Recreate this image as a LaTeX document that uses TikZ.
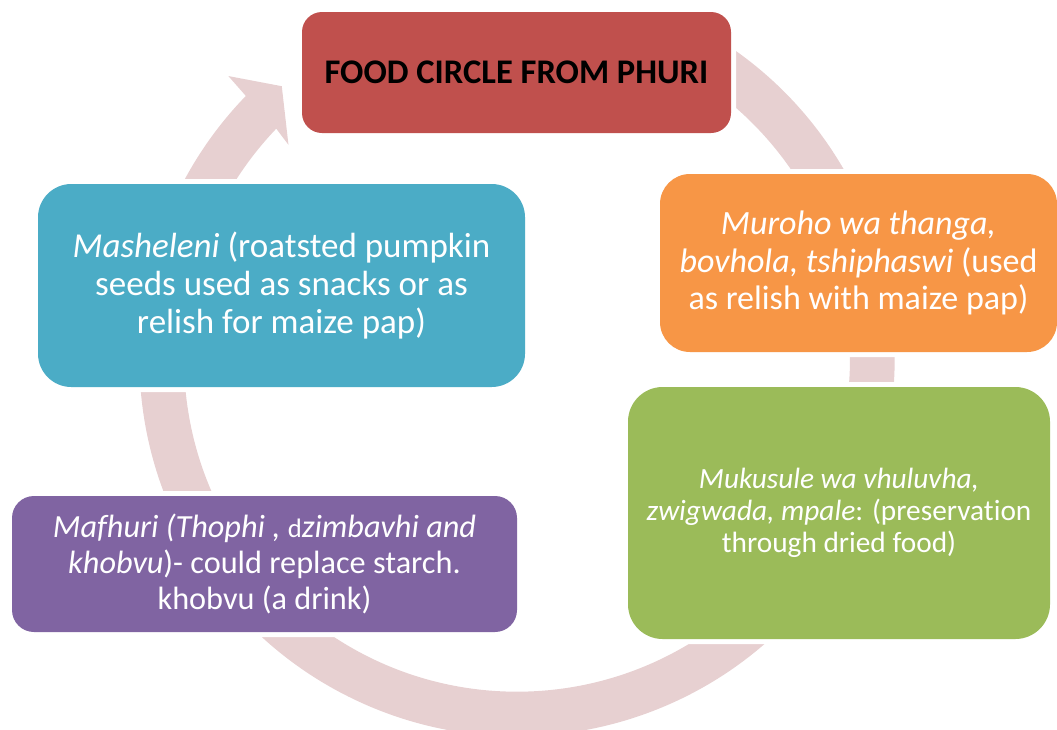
\documentclass[tikz,border=0pt]{standalone}
\usepackage{fontspec}
\setmainfont{Carlito}[Ligatures=NoCommon]
\definecolor{titlered}{HTML}{C0504D}
\definecolor{relishorange}{HTML}{F79646}
\definecolor{driedgreen}{HTML}{9BBB59}
\definecolor{drinkpurple}{HTML}{8064A2}
\definecolor{seedblue}{HTML}{4BACC6}
\definecolor{ringpink}{HTML}{E7D0D1}
\tikzset{
  cyclebox/.style={inner sep=0pt, align=center, text=white,
    preaction={draw=white, line width=7.5pt}},
  ringband/.style={fill=ringpink}
}
\begin{document}
\begin{tikzpicture}[x=0.75pt,y=0.75pt]
\useasboundingbox (0,0) rectangle (1057,-729);
\clip (0,0) rectangle (1057,-729);

% circular arrow running clockwise behind the boxes
\begin{scope}[shift={(517,-358.7)}]
  \fill[ringband] (62:377.6) arc[start angle=62, end angle=-224.1, radius=377.6]
    -- (135.6:404) -- (130.8:360) -- (136.9:313) -- (136.3:333)
    arc[start angle=-223.7, end angle=62, radius=333] -- cycle;
\end{scope}

% the five boxes
\node[cyclebox, fill=titlered, rounded corners=15pt, minimum width=321.75pt,
  minimum height=90.75pt, text=black,
  font=\fontsize{25.9}{28}\selectfont\bfseries] (title) at (516.5,-72.5)
  {FOOD CIRCLE FROM PHURI};

\node[cyclebox, fill=relishorange, rounded corners=22.5pt, minimum width=297.75pt,
  minimum height=133.5pt, font=\fontsize{25.5}{28.3}\selectfont] (relish) at (858.5,-263)
  {\textit{Muroho wa thanga,}\\\textit{bovhola, tshiphaswi} (used\\as relish with maize pap)};

\node[cyclebox, fill=driedgreen, rounded corners=26pt, minimum width=316.5pt,
  minimum height=189pt, font=\fontsize{22}{24.2}\selectfont] (dried) at (839,-513)
  {\textit{Mukusule wa vhuluvha,}\\\textit{zwigwada, mpale}: (preservation\\through dried food)};

\node[cyclebox, fill=drinkpurple, rounded corners=16.5pt, minimum width=378.75pt,
  minimum height=102pt, font=\fontsize{24.2}{26.9}\selectfont] (drink) at (264.5,-564)
  {\textit{Mafhuri (Thophi , {\upshape\fontsize{20}{20}\selectfont d}zimbavhi and}\\\textit{khobvu})- could replace starch.\\khobvu (a drink)};

\node[cyclebox, fill=seedblue, rounded corners=25pt, minimum width=365.25pt,
  minimum height=152.25pt, font=\fontsize{26.25}{28.7}\selectfont] (seeds) at (281.5,-285.5)
  {\textit{Masheleni} (roatsted pumpkin\\seeds used as snacks or as\\relish for maize pap)};
\end{tikzpicture}
\end{document}
